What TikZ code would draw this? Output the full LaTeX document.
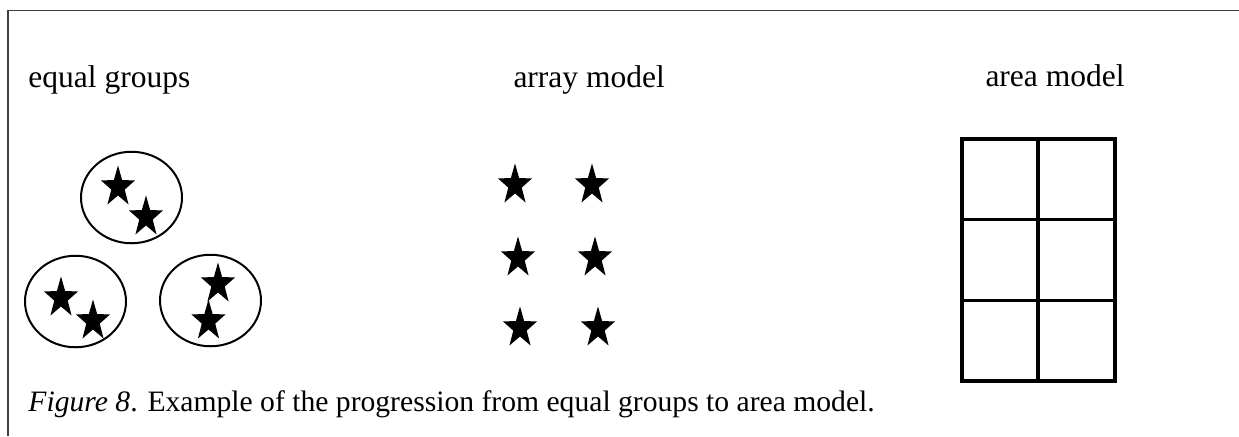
\documentclass[tikz,border=0pt]{standalone}
\usepackage{fontspec}
\setmainfont{Liberation Serif}
\usetikzlibrary{shapes.geometric}

\begin{document}
\begin{tikzpicture}[x=0.4pt, y=-0.4pt,
    group node/.style={ellipse, draw, line width=0.8pt, minimum width=40.4pt, minimum height=36.6pt},
    star node/.style={star, star points=5, star point ratio=2.55, fill, minimum size=14.4pt, yscale=1.2}]
        \tikzstyle{every node}=[font=\fontsize{12.6}{15}\selectfont, inner sep=0pt]

          \path[fill=white, use as bounding box] (0,0) rectangle (1239,436);
          \draw[line width=0.6pt, black!75] (8,436) -- (8,10.5) -- (1239,10.5);

          \node[anchor=base west] (t1) at (28,87) {equal groups};
          \node[anchor=base west] (t2) at (513,87) {array model};
          \node[anchor=base west] (t3) at (985,86) {area model};

          % equal groups
          \node[group node] (1) at (131.5,197.5) {};
          \node[group node] (2) at (75.5,301.5) {};
          \node[group node] (3) at (210.5,300.5) {};
          \node[star node] (11) at (118,187) {};
          \node[star node] (12) at (146,217) {};
          \node[star node] (21) at (61,298) {};
          \node[star node] (22) at (93,321) {};
          \node[star node] (31) at (218,284) {};
          \node[star node] (32) at (208.5,321) {};

          % array model
          \node[star node] (41) at (515,185) {};
          \node[star node] (42) at (592,185) {};
          \node[star node] (51) at (518,258) {};
          \node[star node] (52) at (595,258) {};
          \node[star node] (61) at (520,328) {};
          \node[star node] (62) at (598,328) {};

          % area model
          \draw[line width=1.4pt] (962,139) rectangle (1115,381);
          \draw[line width=1.4pt] (1038,139) -- (1038,381)
                (962,219.5) -- (1115,219.5)
                (962,300.5) -- (1115,300.5);

          \node[anchor=base west, font=\fontsize{11.85}{14}\selectfont] (cap) at (28,411)
                {\textit{Figure 8}. Example of the progression from equal groups to area model.};

        \end{tikzpicture}
\end{document}
